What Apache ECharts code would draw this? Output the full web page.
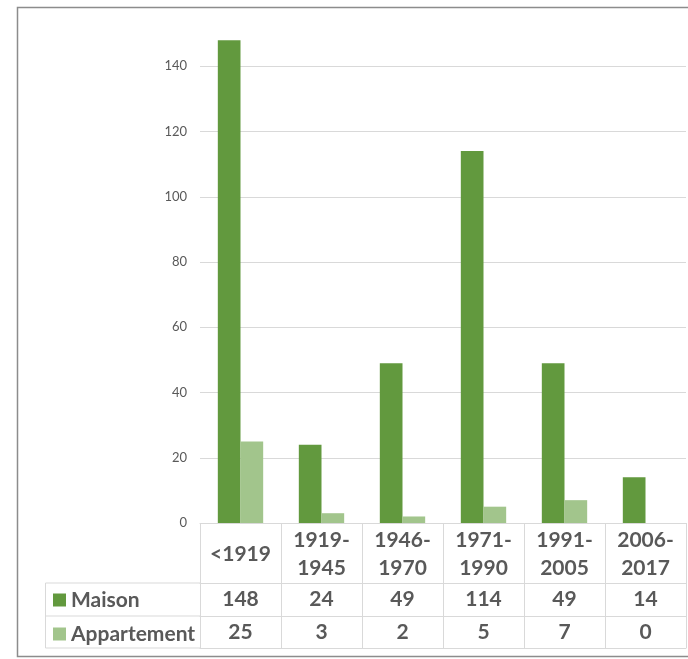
<!DOCTYPE html>
<html>
<head>
<meta charset="utf-8">
<script src="https://cdn.jsdelivr.net/npm/echarts@6/dist/echarts.min.js"></script>
<style>html,body{margin:0;padding:0;background:#fff;}#c{width:688px;height:659px;}</style>
</head>
<body>
<div id="c"></div>
<script>
var categories = ['<1919', '1919-1945', '1946-1970', '1971-1990', '1991-2005', '2006-2017'];
var maison = [148, 24, 49, 114, 49, 14];
var appartement = [25, 3, 2, 5, 7, 0];
var yTicks = [0, 20, 40, 60, 80, 100, 120, 140];

var FONT = 'Lato';
var TXT = '#595959';
var LINE = '#d9d9d9';
var chart = echarts.init(document.getElementById('c'), null, {renderer: 'canvas'});

function tableAxis(offset, values) {
  return {
    type: 'category', data: categories, position: 'bottom', gridIndex: 0,
    offset: offset,
    axisLine: {show: true, lineStyle: {color: LINE, width: 1}},
    axisTick: {show: false},
    axisLabel: values ? {
      show: true, interval: 0, margin: 16.5, verticalAlign: 'middle',
      fontFamily: FONT, fontWeight: 'bold', fontSize: 21, color: TXT,
      formatter: function (v, i) { return String(values[i]); }
    } : {show: false}
  };
}

chart.setOption({
  animation: false,
  backgroundColor: '#fff',
  grid: {left: 200, right: 2, top: 1, bottom: 136, containLabel: false},
  legend: {
    orient: 'vertical', left: 53, top: 589.5, padding: 0, itemGap: 13,
    icon: 'rect', itemWidth: 13, itemHeight: 13, itemStyle: {borderWidth: 0},
    textStyle: {fontFamily: FONT, fontWeight: 'bold', fontSize: 21, color: TXT, lineHeight: 20},
    data: ['Maison', 'Appartement']
  },
  xAxis: [
    {
      type: 'category', data: categories, position: 'bottom',
      axisLine: {show: true, lineStyle: {color: LINE, width: 1}},
      axisTick: {show: true, length: 125, lineStyle: {color: LINE, width: 1}},
      axisLabel: {
        interval: 0, margin: 31, verticalAlign: 'middle', align: 'center',
        fontFamily: FONT, fontWeight: 'bold', fontSize: 21, color: TXT, lineHeight: 28,
        formatter: function (v) { return v.replace('-', '-\n'); }
      }
    },
    tableAxis(60, maison),
    tableAxis(93, appartement),
    tableAxis(125, null)
  ],
  yAxis: {
    type: 'value', min: 0, max: 160, interval: 20,
    axisLine: {show: false}, axisTick: {show: false},
    axisLabel: {
      margin: 13, fontFamily: FONT, fontSize: 13, color: TXT, showMaxLabel: false,
      formatter: function (v) { return yTicks.indexOf(v) >= 0 ? String(v) : ''; }
    },
    splitLine: {show: true, showMaxLine: false, lineStyle: {color: LINE, width: 1}}
  },
  series: [
    {name: 'Maison', type: 'bar', data: maison, barGap: '0%', barCategoryGap: '44%',
     itemStyle: {color: '#62993e'}},
    {name: 'Appartement', type: 'bar', data: appartement, barGap: '0%', barCategoryGap: '44%',
     itemStyle: {color: '#a2c58c'}}
  ],
  graphic: [
    {type: 'rect', shape: {x: 17.5, y: 7.5, width: 700, height: 649}, silent: true,
     style: {fill: null, stroke: '#8c8c8c', lineWidth: 1.5}, z: 100},
    {type: 'line', shape: {x1: 45.5, y1: 583, x2: 200, y2: 583}, style: {stroke: LINE, lineWidth: 1}},
    {type: 'line', shape: {x1: 45.5, y1: 616, x2: 200, y2: 616}, style: {stroke: LINE, lineWidth: 1}},
    {type: 'line', shape: {x1: 45.5, y1: 648, x2: 200, y2: 648}, style: {stroke: LINE, lineWidth: 1}},
    {type: 'line', shape: {x1: 45.5, y1: 583, x2: 45.5, y2: 648}, style: {stroke: LINE, lineWidth: 1}}
  ]
});
</script>
</body>
</html>
